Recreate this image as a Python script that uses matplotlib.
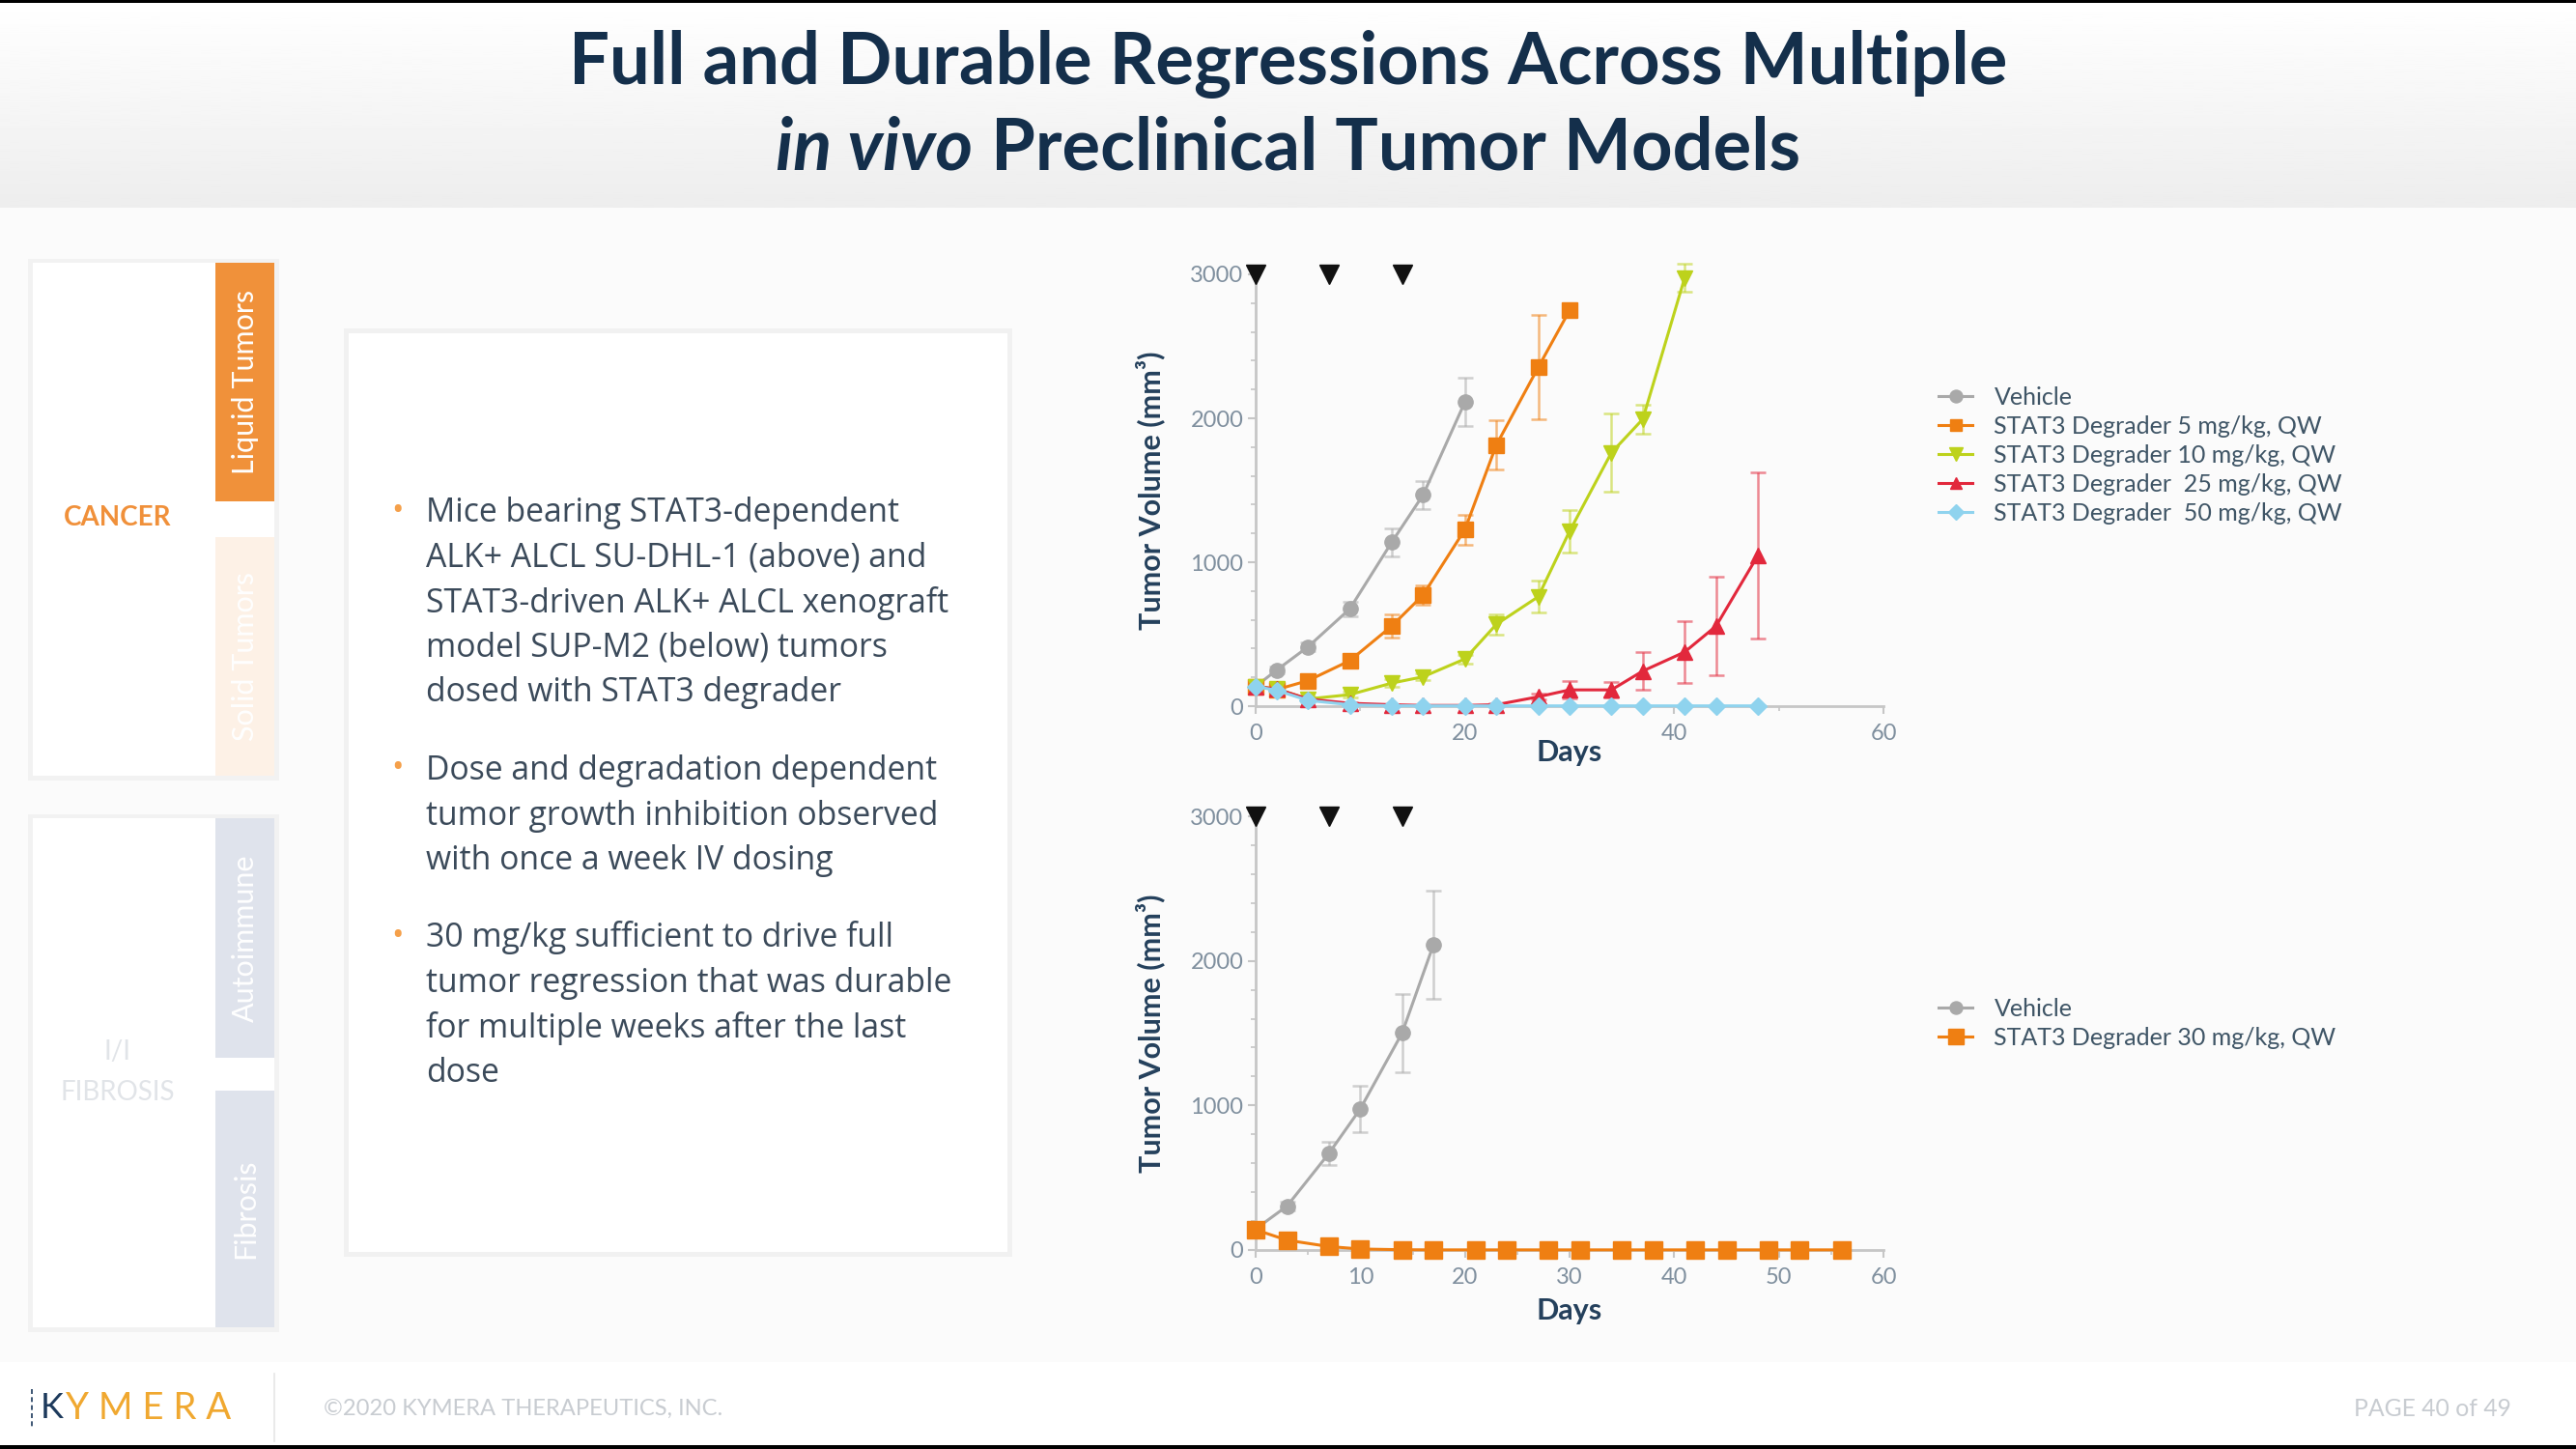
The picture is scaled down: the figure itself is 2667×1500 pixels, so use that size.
import matplotlib.pyplot as plt
import numpy as np
from matplotlib.patches import Rectangle

# ---- top model (SU-DHL-1), days of measurement
days_top = [0, 2, 5, 9, 13, 16, 20, 23, 27, 30, 34, 37, 41, 44, 48]
vehicle_top = [137, 250, 412, 676, 1138, 1467, 2113]
vehicle_top_err = [20, 25, 30, 50, 100, 100, 168]
deg5 = [137, 115, 177, 316, 556, 772, 1227, 1814, 2353, 2749]
deg5_err = [20, 20, 25, 30, 80, 70, 105, 170, 363, 0]
deg10 = [137, 120, 50, 80, 160, 204, 328, 568, 760, 1215, 1761, 1994, 2976]
deg10_err = [20, 20, 15, 20, 25, 25, 30, 70, 110, 150, 270, 100, 100]
deg25 = [137, 120, 50, 20, 10, 5, 5, 10, 65, 113, 113, 244, 376, 556, 1047]
deg25_err = [20, 20, 10, 5, 5, 5, 5, 10, 20, 60, 55, 130, 215, 340, 580]
deg50 = [137, 110, 40, 10, 3, 2, 2, 2, 2, 2, 2, 2, 2, 2, 2]
deg50_err = [20, 15, 10, 5, 2, 2, 2, 2, 2, 2, 2, 2, 2, 2, 2]

# ---- bottom model (SUP-M2)
days_vehicle_bot = [0, 3, 7, 10, 14, 17]
vehicle_bot = [145, 304, 668, 976, 1501, 2113]
vehicle_bot_err = [15, 30, 80, 160, 270, 375]
days_deg30 = [0, 3, 7, 10, 14, 17, 21, 24, 28, 31, 35, 38, 42, 45, 49, 52, 56]
deg30 = [140, 68, 24, 7, 2, 1, 1, 1, 1, 1, 1, 1, 1, 1, 1, 1, 1]

dose_days = [0, 7, 14]

labels_top = ["Vehicle", "STAT3 Degrader 5 mg/kg, QW", "STAT3 Degrader 10 mg/kg, QW",
              "STAT3 Degrader  25 mg/kg, QW", "STAT3 Degrader  50 mg/kg, QW"]
labels_bot = ["Vehicle", "STAT3 Degrader 30 mg/kg, QW"]

bullets = [
    ["Mice bearing STAT3-dependent", "ALK+ ALCL SU-DHL-1 (above) and",
     "STAT3-driven ALK+ ALCL xenograft", "model SUP-M2 (below) tumors",
     "dosed with STAT3 degrader"],
    ["Dose and degradation dependent", "tumor growth inhibition observed",
     "with once a week IV dosing"],
    ["30 mg/kg sufficient to drive full", "tumor regression that was durable",
     "for multiple weeks after the last", "dose"],
]

GRAY = "#a9a9a9"
ORANGE = "#ef7f12"
LIME = "#bdd21c"
RED = "#e2283c"
CYAN = "#8fd3ee"
NAVY = "#142f4b"
TEXT = "#3b4a5a"

W, H = 2667, 1500
fig = plt.figure(figsize=(W / 100, H / 100), dpi=100)
renderer = fig.canvas.get_renderer()

bg = fig.add_axes([0, 0, 1, 1])
bg.axis("off")

# title band gradient
grad = np.linspace(1.0, 0.93, 100).reshape(-1, 1)
bg.imshow(grad, extent=[0, W, 215, 0], origin="upper", cmap="gray",
          vmin=0, vmax=1, aspect="auto")
bg.add_patch(Rectangle((0, 215), W, 1195, color="#fbfbfb", lw=0))
grad2 = np.linspace(1.0, 0.95, 50).reshape(-1, 1)
bg.imshow(grad2, extent=[0, W, 1410, 1370], origin="upper", cmap="gray",
          vmin=0, vmax=1, aspect="auto")
bg.add_patch(Rectangle((0, 1410), W, 90, color="white", lw=0))
bg.add_patch(Rectangle((0, 0), W, 3, color="black", lw=0))
bg.add_patch(Rectangle((0, 1496), W, 4, color="black", lw=0))
bg.set_xlim(0, W)
bg.set_ylim(H, 0)


def fit(t, target):
    w = t.get_window_extent(renderer).width
    t.set_fontsize(t.get_fontsize() * target / w)


# title
t1 = bg.text(W / 2, 66, "Full and Durable Regressions Across Multiple", ha="center",
             va="center", fontsize=40, fontweight="bold", color=NAVY, family="Lato")
fit(t1, 1490)
fs_title = t1.get_fontsize()
ta = bg.text(0, 154, "in vivo", ha="left", va="center", fontsize=fs_title,
             fontweight="bold", style="italic", color=NAVY, family="Lato")
tb = bg.text(0, 154, " Preclinical Tumor Models", ha="left", va="center",
             fontsize=fs_title, fontweight="bold", color=NAVY, family="Lato")
wa = ta.get_window_extent(renderer).width
wb = tb.get_window_extent(renderer).width
x0 = W / 2 - (wa + wb) / 2
ta.set_x(x0)
tb.set_x(x0 + wa)

# left side panels
for (y0, y1) in [(272, 803), (847, 1374)]:
    bg.add_patch(Rectangle((29, y0 - 4), 260, y1 - y0 + 9, color="#f2f2f2", lw=0))
    bg.add_patch(Rectangle((34, y0), 250, y1 - y0, color="white", lw=0))
tabs = [("Liquid Tumors", 272, 519, "#f0913a", "white"),
        ("Solid Tumors", 556, 803, "#fdf1e6", "#ffffff"),
        ("Autoimmune", 847, 1095, "#dfe3ec", "#ffffff"),
        ("Fibrosis", 1129, 1374, "#dfe3ec", "#ffffff")]
for name, y0, y1, fc, tc in tabs:
    bg.add_patch(Rectangle((223, y0), 61, y1 - y0, color=fc, lw=0))
    bg.text(254, (y0 + y1) / 2, name, rotation=90, ha="center", va="center",
            fontsize=22, color=tc, family="Lato")
tc1 = bg.text(122, 536, "CANCER", ha="center", va="center", fontsize=15,
              fontweight="bold", color="#f0903a", family="Lato")
fit(tc1, 111)
bg.text(122, 1089, "I/I", ha="center", va="center", fontsize=tc1.get_fontsize(),
        color="#e1e4e8", family="Lato")
bg.text(122, 1131, "FIBROSIS", ha="center", va="center", fontsize=tc1.get_fontsize(),
        color="#e1e4e8", family="Lato")

# bullet text panel
bg.add_patch(Rectangle((356, 340), 692, 961, color="#f1f1f1", lw=0))
bg.add_patch(Rectangle((361, 345), 682, 951, color="white", lw=0))
group_y = [531, 798, 971]
line_step = 46.6
fs_body = None
for g, lines in enumerate(bullets):
    for i, line in enumerate(lines):
        y = group_y[g] + i * line_step
        t = bg.text(441, y, line, ha="left", va="center", fontsize=22,
                    color=TEXT, family="Open Sans")
        if fs_body is None:
            fit(t, 491)
            fs_body = t.get_fontsize()
        else:
            t.set_fontsize(fs_body)
    bg.text(412, group_y[g] - 2, "•", ha="center", va="center", fontsize=24,
            color="#f5a04a", family="Open Sans")

# footer
k = bg.text(42, 1458, "K", ha="left", va="center", fontsize=26, color="#1d3a5c",
            family="Lato")
wk = k.get_window_extent(renderer).width
ym = bg.text(42 + wk + 2, 1458, "Y M E R A", ha="left", va="center", fontsize=22,
             color="#f0a830", family="Lato")
fit(ym, 238 - 44 - wk)
bg.plot([33, 33], [1438, 1478], color="#1d3a5c", lw=1.2, ls=(0, (3, 2)))
bg.plot([284, 284], [1422, 1492], color="#e6e6e6", lw=1.2)
cp = bg.text(335, 1458, "©2020 KYMERA THERAPEUTICS, INC.", ha="left", va="center",
             fontsize=11, color="#c8ccd1", family="Lato")
fit(cp, 413)
pg = bg.text(2600, 1458, "PAGE 40 of 49", ha="right", va="center", fontsize=11,
             color="#c8ccd1", family="Lato")
fit(pg, 163)


def style_axis(ax, major_x, minor_x):
    ax.set_facecolor("none")
    ax.set_xlim(0, 60)
    ax.set_ylim(0, 3000)
    for s in ["top", "right"]:
        ax.spines[s].set_visible(False)
    for s in ["left", "bottom"]:
        ax.spines[s].set_color("#c6c6c6")
        ax.spines[s].set_linewidth(2)
    ax.set_xticks(major_x)
    ax.set_xticks(minor_x, minor=True)
    ax.set_yticks([0, 1000, 2000, 3000])
    ax.set_yticks(np.arange(200, 3000, 200), minor=True)
    ax.tick_params(which="major", length=6, width=1.5, color="#c6c6c6",
                   labelsize=17, labelcolor="#7f8f9e", pad=3)
    ax.tick_params(axis="x", which="major", pad=7)
    ax.tick_params(which="minor", length=3.5, width=1.2, color="#c6c6c6")
    for lab in ax.get_xticklabels() + ax.get_yticklabels():
        lab.set_family("Lato")
    ax.text(-109 / 650, 0.5, "Tumor Volume (mm³)", transform=ax.transAxes,
            rotation=90, ha="center", va="center", fontsize=22,
            fontweight="bold", color="#24405c", family="Lato")
    ax.plot(dose_days, [3000] * len(dose_days), "v", color="#111111",
            markersize=15, clip_on=False, zorder=6)


def series(ax, x, y, err, color, marker, ms, label):
    if err is not None:
        eb = ax.errorbar(x[:len(err)], y[:len(err)], yerr=err, fmt="none",
                         ecolor=color, alpha=0.55, elinewidth=1.8, capsize=6,
                         capthick=1.8, zorder=3)
        for art in eb.get_children():
            art.set_clip_on(False)
    ax.plot(x[:len(y)], y, color=color, marker=marker, markersize=ms, lw=2.2,
            clip_on=False, zorder=4, label=label)


ax1 = fig.add_axes([1300 / W, 1 - 731 / H, 650 / W, (731 - 284) / H])
style_axis(ax1, [0, 20, 40, 60], [10, 30, 50])
series(ax1, days_top, vehicle_top, vehicle_top_err, GRAY, "o", 11, labels_top[0])
series(ax1, days_top, deg5, deg5_err, ORANGE, "s", 11, labels_top[1])
series(ax1, days_top, deg10, deg10_err, LIME, "v", 12, labels_top[2])
series(ax1, days_top, deg25, deg25_err, RED, "^", 11, labels_top[3])
series(ax1, days_top, deg50, deg50_err, CYAN, "D", 9, labels_top[4])
ax1.text(0.5, -48 / 447, "Days", transform=ax1.transAxes, ha="center", va="center",
         fontsize=22, fontweight="bold", color="#24405c", family="Lato")

ax2 = fig.add_axes([1300 / W, 1 - 1294 / H, 650 / W, (1294 - 845) / H])
style_axis(ax2, [0, 10, 20, 30, 40, 50, 60], [5, 15, 25, 35, 45, 55])
series(ax2, days_vehicle_bot, vehicle_bot, vehicle_bot_err, GRAY, "o", 11, labels_bot[0])
series(ax2, days_deg30, deg30, None, ORANGE, "s", 13, labels_bot[1])
ax2.text(0.5, -63 / 449, "Days", transform=ax2.transAxes, ha="center", va="center",
         fontsize=22, fontweight="bold", color="#24405c", family="Lato")

for ax, ytop in [(ax1, 400), (ax2, 1033)]:
    leg = ax.legend(loc="upper left", bbox_to_anchor=(2007 / W, 1 - ytop / H),
                    bbox_transform=fig.transFigure, frameon=False,
                    prop={"family": "Lato", "size": 18}, labelcolor="#3f5566",
                    labelspacing=0.28, handlelength=1.4, handletextpad=0.9,
                    borderpad=0, borderaxespad=0, markerscale=0.85)

fig.savefig("out.png", dpi=100)
